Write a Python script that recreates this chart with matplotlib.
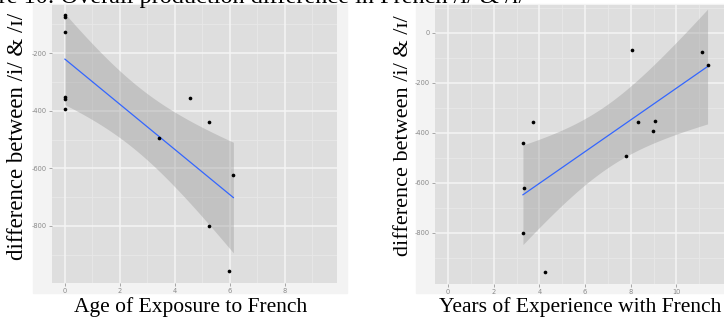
import numpy as np
import matplotlib
matplotlib.use("Agg")
import matplotlib.pyplot as plt
from matplotlib.patches import Rectangle

# Production difference between /i/ and /ɪ/ for each participant
diff_vals = [-68, -76, -128, -352, -359, -395, -493, -357, -440, -800, -622, -958]
age_exposure = [0, 0, 0, 0, 0, 0, 3.43, 4.55, 5.24, 5.24, 6.13, 5.98]
years_experience = [8.07, 11.12, 11.36, 9.06, 8.31, 8.96, 7.78, 3.72, 3.28, 3.28, 3.34, 4.26]

left_xticks = [0, 2, 4, 6, 8]
left_yticks = [-200, -400, -600, -800]
right_xticks = [0, 2, 4, 6, 8, 10]
right_yticks = [0, -200, -400, -600, -800]

T975_DF10 = 2.228  # Student t quantile for a 95% band with n - 2 = 10

W, H = 724, 320
fig = plt.figure(figsize=(W / 100, H / 100), dpi=100)
fig.patch.set_facecolor("white")

SERIF = ["Liberation Serif", "DejaVu Serif"]
PANEL = "#DEDEDE"
OUTER = "#F3F3F3"


def px_rect(x0, y0, x1, y1):
    return [x0 / W, 1 - y1 / H, (x1 - x0) / W, (y1 - y0) / H]


def smooth_panel(ax, x, y, xlim, ylim, xticks, yticks, minor_x, minor_y):
    x = np.asarray(x, float)
    y = np.asarray(y, float)
    n = len(x)
    slope, intercept = np.polyfit(x, y, 1)
    resid = y - (intercept + slope * x)
    s = np.sqrt(np.sum(resid ** 2) / (n - 2))
    sxx = np.sum((x - x.mean()) ** 2)
    xs = np.linspace(x.min(), x.max(), 100)
    fit = intercept + slope * xs
    se = s * np.sqrt(1 / n + (xs - x.mean()) ** 2 / sxx)
    ax.set_facecolor(PANEL)
    for v in minor_x:
        ax.axvline(v, color="#E8E8E8", lw=0.6, zorder=0.5)
    for v in minor_y:
        ax.axhline(v, color="#E8E8E8", lw=0.6, zorder=0.5)
    for v in xticks:
        ax.axvline(v, color="#F5F5F5", lw=1.1, zorder=0.6)
    for v in yticks:
        ax.axhline(v, color="#F5F5F5", lw=1.1, zorder=0.6)
    ax.fill_between(xs, fit - T975_DF10 * se, fit + T975_DF10 * se,
                    color="#999999", alpha=0.4, lw=0, zorder=1)
    ax.plot(xs, fit, color="#3366FF", lw=0.9, zorder=2)
    ax.scatter(x, y, s=7, color="black", zorder=3, lw=0)
    ax.set_xlim(*xlim)
    ax.set_ylim(*ylim)
    ax.set_xticks(xticks)
    ax.set_yticks(yticks)
    ax.set_xticklabels([str(t) for t in xticks])
    ax.set_yticklabels([str(t) for t in yticks])
    ax.tick_params(length=2, width=0.5, color="#888888", labelsize=4.8,
                   labelcolor="#8A8A8A", pad=1.5)
    for sp in ax.spines.values():
        sp.set_visible(False)


# light plot backgrounds behind each panel
fig.add_artist(Rectangle((33 / W, 1 - 293 / H), (347 - 33) / W, (293 - 4) / H,
                         transform=fig.transFigure, color=OUTER, zorder=-1))
fig.add_artist(Rectangle((416 / W, 1 - 293 / H), (W - 416) / W, (293 - 4) / H,
                         transform=fig.transFigure, color=OUTER, zorder=-1))

ax1 = fig.add_axes(px_rect(52, 5, 337, 283))
smooth_panel(ax1, age_exposure, diff_vals, (-0.47, 9.9), (-998, -33),
             left_xticks, left_yticks, [1, 3, 5, 7, 9], [-100, -300, -500, -700, -900])

ax2 = fig.add_axes(px_rect(435, 5, W, 284))
smooth_panel(ax2, years_experience, diff_vals, (-0.57, 12.08), (-1006, 110),
             right_xticks, right_yticks, [1, 3, 5, 7, 9, 11], [100, -100, -300, -500, -700, -900])

label_kw = dict(family=SERIF, color="black")
fig.text(191 / W, 1 - 307 / H, "Age of Exposure to French", ha="center", va="center",
         fontsize=15.5, **label_kw)
fig.text(580 / W, 1 - 307 / H, "Years of Experience with French", ha="center", va="center",
         fontsize=15.5, **label_kw)
fig.text(18 / W, 1 - 136 / H, "difference between /i/ & /ɪ/", rotation=90,
         ha="center", va="center", fontsize=16.5, **label_kw)
fig.text(403 / W, 1 - 136 / H, "difference between /i/ & /ɪ/", rotation=90,
         ha="center", va="center", fontsize=16, **label_kw)

# figure caption running above the panels
fig.text(-46 / W, 1 - 3 / H, "Figure 10: Overall production difference in French /i/ & /ɪ/",
         ha="left", va="baseline", family=SERIF, fontsize=17.5, color="black")

fig.savefig("out.png", dpi=100, facecolor="white")
